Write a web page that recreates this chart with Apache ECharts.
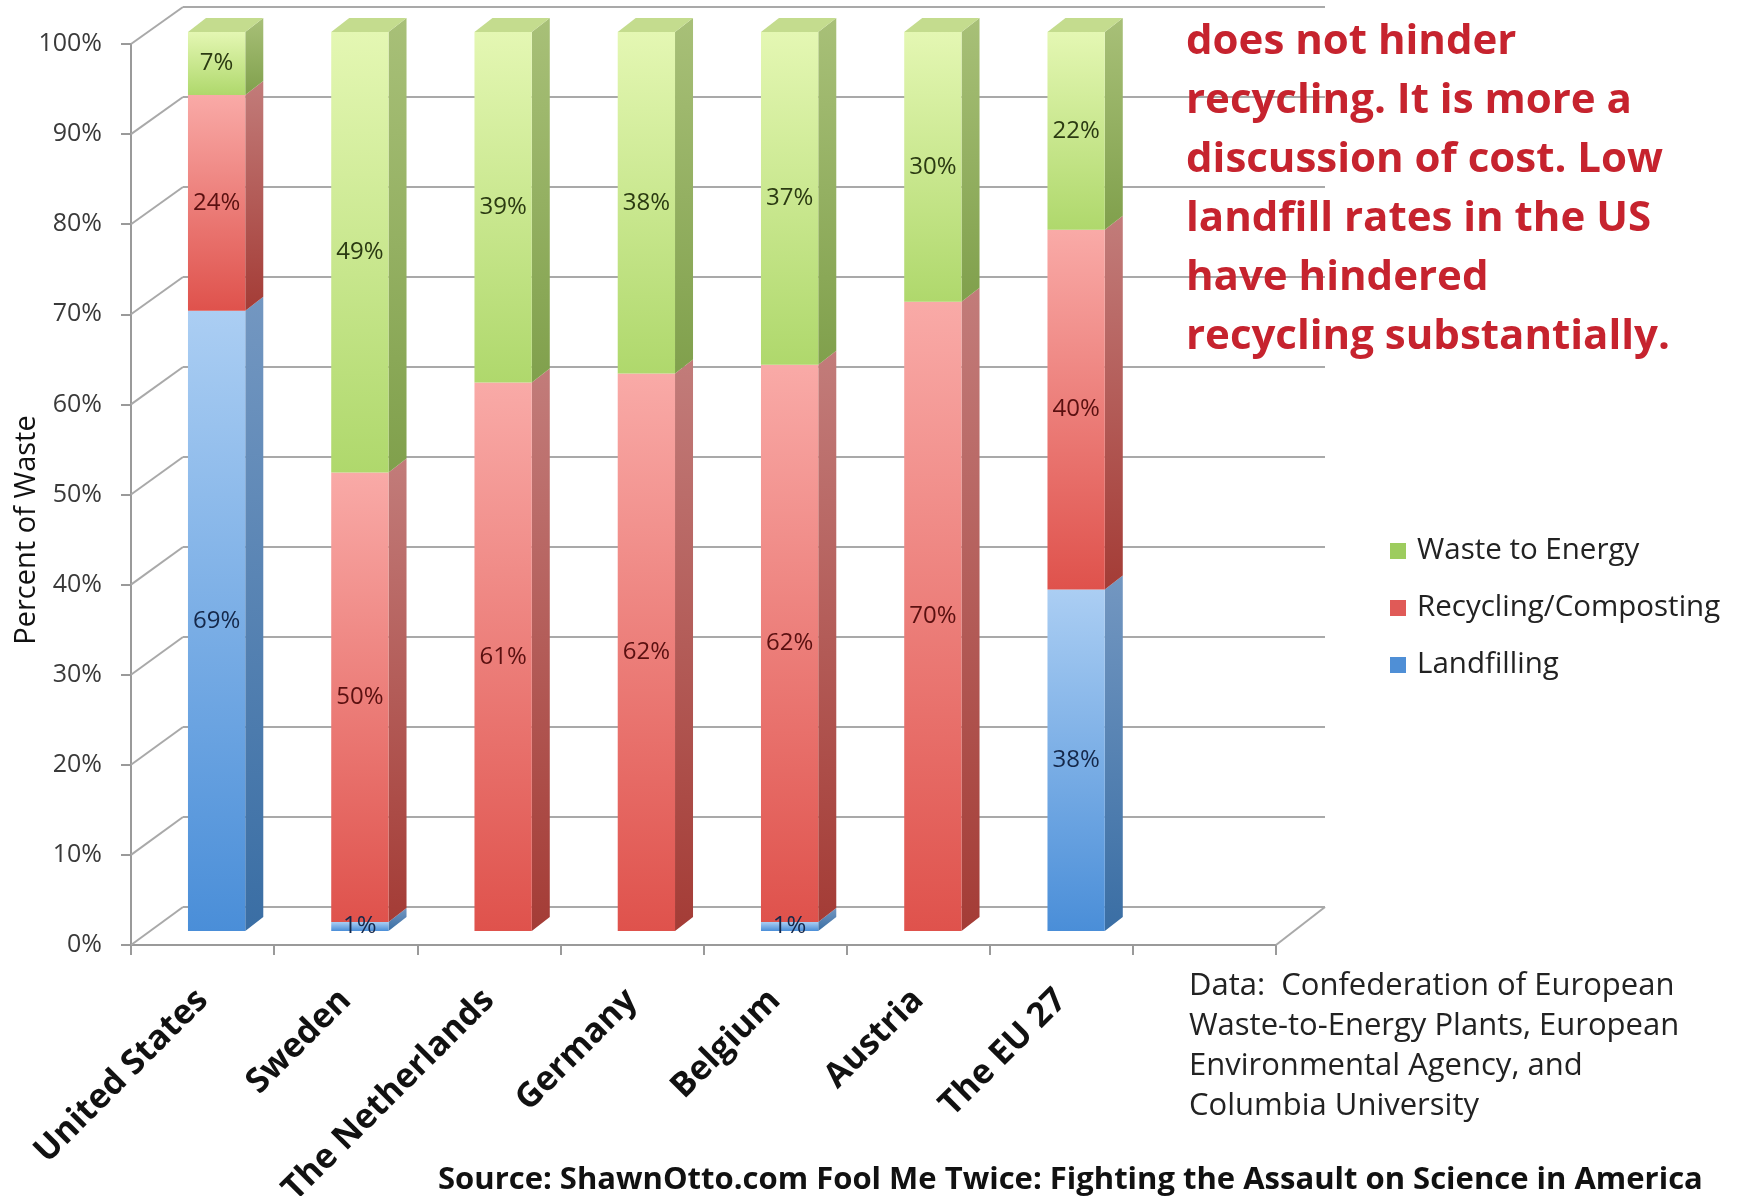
<!DOCTYPE html>
<html>
<head>
<meta charset="utf-8">
<script src="https://cdn.jsdelivr.net/npm/echarts@6/dist/echarts.min.js"></script>
<style>
html,body{margin:0;padding:0;background:#fff;}
#chart{width:1739px;height:1196px;}
</style>
</head>
<body>
<div id="chart"></div>
<script>
// ---- data ----
const categories = ['United States', 'Sweden', 'The Netherlands', 'Germany', 'Belgium', 'Austria', 'The EU 27'];
const landfilling = [69, 1, 0, 0, 1, 0, 38];
const recycling = [24, 50, 61, 62, 62, 70, 40];
const wasteToEnergy = [7, 49, 39, 38, 37, 30, 22];
const yTickValues = [0, 10, 20, 30, 40, 50, 60, 70, 80, 90, 100];
const seriesNames = ['Landfilling', 'Recycling/Composting', 'Waste to Energy'];
const annotationLines = ['does not hinder', 'recycling. It is more a', 'discussion of cost. Low', 'landfill rates in the US', 'have hindered', 'recycling substantially.'];
const dataLines = ['Data:  Confederation of European', 'Waste-to-Energy Plants, European', 'Environmental Agency, and', 'Columbia University'];
const sourceText = 'Source: ShawnOtto.com Fool Me Twice: Fighting the Assault on Science in America';
const yAxisTitle = 'Percent of Waste';

// ---- layout ----
const FONT = '"Open Sans", Lato, sans-serif';
const FRONT = {left: 131, top: 44, width: 1145, height: 901};
const BACK = {left: 183, top: 7, width: 1142, height: 900};
const BARS = {left: 145, top: 32, width: 1146, height: 899};
const axisCats = categories.concat(['']);

const palettes = {
  'Waste to Energy': {front: ['#e4f7b3', '#afd86c'], side: ['#a8c078', '#80a04c'], top: '#c4dc8e', label: '#2b3a12', legend: '#9dcc5e'},
  'Recycling/Composting': {front: ['#f9aaa7', '#df524c'], side: ['#c27c7a', '#a43c36'], top: '#e89a97', label: '#5a1010', legend: '#e05a57'},
  'Landfilling': {front: ['#abcef3', '#4a8ed8'], side: ['#7397c1', '#3a6ea4'], top: '#9ec2ea', label: '#15284a', legend: '#4f8fd6'}
};

const layers = [landfilling, recycling, wasteToEnergy];
const totals = categories.map((c, i) => layers.reduce((s, a) => s + a[i], 0));

function buildData(layerIdx) {
  return categories.map((c, i) => {
    let start = 0;
    for (let k = 0; k < layerIdx; k++) start += layers[k][i];
    const v = layers[layerIdx][i];
    const end = start + v;
    return [i, start, end, end >= totals[i] ? 1 : 0, v];
  });
}

function makeRender(name) {
  const pal = palettes[name];
  return function (params, api) {
    const i = api.value(0), start = api.value(1), end = api.value(2), isTop = api.value(3), v = api.value(4);
    if (!(end - start > 0)) return {type: 'group', children: []};
    const pb = api.coord([i, start]);
    const pt = api.coord([i, end]);
    const slot = api.size([1, 0])[0];
    const w = slot * 0.4;
    const x0 = pb[0] - w / 2, x1 = pb[0] + w / 2;
    const yb = pb[1], yt = pt[1];
    const dx = 18, dy = -14;
    const children = [];
    children.push({
      type: 'polygon',
      shape: {points: [[x1, yb], [x1, yt], [x1 + dx, yt + dy], [x1 + dx, yb + dy]]},
      style: {fill: new echarts.graphic.LinearGradient(0, 0, 0, 1, [{offset: 0, color: pal.side[0]}, {offset: 1, color: pal.side[1]}])}
    });
    children.push({
      type: 'rect',
      shape: {x: x0, y: yt, width: w, height: yb - yt},
      style: {fill: new echarts.graphic.LinearGradient(0, 0, 0, 1, [{offset: 0, color: pal.front[0]}, {offset: 1, color: pal.front[1]}])}
    });
    if (isTop) {
      children.push({
        type: 'polygon',
        shape: {points: [[x0, yt], [x1, yt], [x1 + dx, yt + dy], [x0 + dx, yt + dy]]},
        style: {fill: pal.top}
      });
    }
    children.push({
      type: 'text',
      style: {
        x: pb[0], y: (yb + yt) / 2,
        text: v + '%',
        textAlign: 'center', textVerticalAlign: 'middle',
        fill: pal.label,
        font: '24px ' + FONT
      },
      z2: 10
    });
    return {type: 'group', children: children};
  };
}

const chart = echarts.init(document.getElementById('chart'), null, {renderer: 'canvas'});

const seriesList = seriesNames.map((name, idx) => ({
  name: name,
  type: 'custom',
  xAxisIndex: 2,
  yAxisIndex: 2,
  renderItem: makeRender(name),
  itemStyle: {color: palettes[name].legend},
  encode: {x: 0, y: [1, 2]},
  data: buildData(idx),
  z: 5
}));

const gridBase = {containLabel: false, outerBoundsMode: 'none'};

chart.setOption({
  animation: false,
  backgroundColor: '#ffffff',
  grid: [
    Object.assign({}, FRONT, gridBase),
    Object.assign({}, BACK, gridBase),
    Object.assign({}, BARS, gridBase)
  ],
  xAxis: [
    {
      gridIndex: 0, type: 'category', data: axisCats, boundaryGap: true,
      axisLine: {lineStyle: {color: '#9a9a9a', width: 2}},
      axisTick: {show: true, length: 10, lineStyle: {color: '#9a9a9a', width: 2}},
      axisLabel: {rotate: 45, margin: 50, interval: 0, color: '#111', fontFamily: FONT, fontWeight: 'bold', fontSize: 34}
    },
    {gridIndex: 1, type: 'category', data: axisCats, show: false},
    {gridIndex: 2, type: 'category', data: axisCats, show: false}
  ],
  yAxis: [
    {
      gridIndex: 0, type: 'value', min: yTickValues[0], max: yTickValues[yTickValues.length - 1], interval: yTickValues[1] - yTickValues[0],
      axisLine: {show: true, lineStyle: {color: '#9a9a9a', width: 2}},
      axisTick: {show: true, length: 10, lineStyle: {color: '#9a9a9a', width: 2}},
      splitLine: {show: false},
      axisLabel: {formatter: '{value}%', margin: 29, color: '#3a3a3a', fontFamily: FONT, fontSize: 25}
    },
    {
      gridIndex: 1, type: 'value', min: yTickValues[0], max: yTickValues[yTickValues.length - 1], interval: yTickValues[1] - yTickValues[0],
      axisLine: {show: false}, axisTick: {show: false}, axisLabel: {show: false},
      splitLine: {show: true, lineStyle: {color: '#a9a9a9', width: 2}}
    },
    {
      gridIndex: 2, type: 'value', min: 0, max: 100, show: false, splitLine: {show: false}
    }
  ],
  legend: {
    data: ['Waste to Energy', 'Recycling/Composting', 'Landfilling'],
    orient: 'vertical',
    left: 1385, top: 531,
    itemWidth: 16, itemHeight: 16, itemGap: 27,
    icon: 'rect',
    selectedMode: false,
    textStyle: {fontFamily: FONT, fontSize: 29.5, lineHeight: 30, color: '#222', padding: [0, 0, 0, 6]}
  },
  series: seriesList
});

// decorative 3D frame lines & texts
const gfx = [];
yTickValues.forEach(v => {
  const yf = chart.convertToPixel({yAxisIndex: 0}, v);
  const yb = chart.convertToPixel({yAxisIndex: 1}, v);
  gfx.push({type: 'line', shape: {x1: FRONT.left, y1: yf, x2: BACK.left, y2: yb}, style: {stroke: '#a9a9a9', lineWidth: 2}, z: 1});
});
{
  const yf = chart.convertToPixel({yAxisIndex: 0}, yTickValues[0]);
  const yb = chart.convertToPixel({yAxisIndex: 1}, yTickValues[0]);
  gfx.push({type: 'line', shape: {x1: FRONT.left + FRONT.width, y1: yf, x2: BACK.left + BACK.width, y2: yb}, style: {stroke: '#a9a9a9', lineWidth: 2}, z: 1});
}
gfx.push({
  type: 'text', x: 27, y: 530, rotation: Math.PI / 2,
  style: {text: yAxisTitle, font: '29px ' + FONT, fill: '#111', textAlign: 'center', textVerticalAlign: 'middle'}
});
annotationLines.forEach((t, k) => {
  gfx.push({type: 'text', x: 1186, y: 42 + k * 59, z: 20,
    style: {text: t, font: 'bold 42px ' + FONT, fill: '#c6232e', textAlign: 'left', textVerticalAlign: 'middle'}});
});
dataLines.forEach((t, k) => {
  gfx.push({type: 'text', x: 1189, y: 986 + k * 40,
    style: {text: t, font: '31px ' + FONT, fill: '#222', textAlign: 'left', textVerticalAlign: 'middle'}});
});
gfx.push({type: 'text', x: 438, y: 1180,
  style: {text: sourceText, font: 'bold 31px ' + FONT, fill: '#111', textAlign: 'left', textVerticalAlign: 'middle'}});

chart.setOption({graphic: gfx});
</script>
</body>
</html>
